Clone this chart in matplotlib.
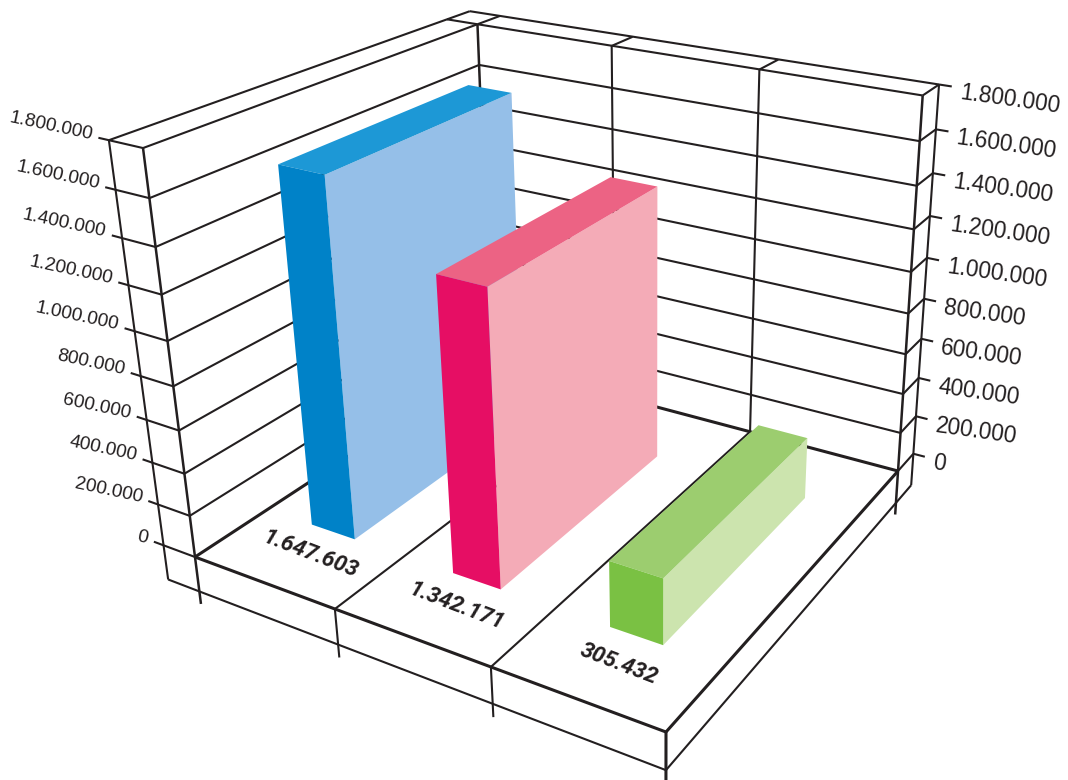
# 3D style bars, drawn on a flat pixel-sized axes through a fixed camera
import matplotlib
matplotlib.use("Agg")
import matplotlib.pyplot as plt
import numpy as np

values = [1647603, 1342171, 305432]
value_labels = ["1.647.603", "1.342.171", "305.432"]
axis_ticks = [0, 200000, 400000, 600000, 800000, 1000000, 1200000, 1400000, 1600000, 1800000]
tick_labels = ["0", "200.000", "400.000", "600.000", "800.000", "1.000.000",
               "1.200.000", "1.400.000", "1.600.000", "1.800.000"]
front_colors = ["#0082c8", "#e60e64", "#7ac143"]
side_colors = ["#95bfe8", "#f4abb7", "#cce4ae"]
top_colors = ["#1d98d6", "#ec6384", "#9ccd6f"]
INK = "#231f20"

# camera: u along the categories, v into the depth, z up (all 0..1 on the box)
CAMERA = np.array([
    [367.73, 416.61, -67.0, 195.0],
    [61.5, -104.83, -424.5, 557.0],
    [-0.15506, 0.24564, -0.105, 1.0],
])
# the original is not a clean perspective, its right side sits a little lower
WARP_X, WARP_Y = -3.0, 5.0
Z_MAX = axis_ticks[-1]
N = len(values)
BAR_W = 0.105 * 3 / N
BAR_SHIFT = -0.0025
V0, V1 = 0.207, 0.799
SKIRT = -0.095
DROP = -0.13
OUT_U = -0.08
OUT_V = 1.087
TICK_R = 1.025
THIN, MID, THICK = 1.5, 1.8, 2.2


def project(u, v, z):
    p = CAMERA @ np.array([u, v, z, 1.0])
    return p[0] / p[2] + WARP_X * u * z, p[1] / p[2] + WARP_Y * u * z


def seg(ax, a, b, lw=THIN):
    pa, pb = project(*a), project(*b)
    ax.plot([pa[0], pb[0]], [pa[1], pb[1]], color=INK, lw=lw, solid_capstyle="butt", zorder=2)


def face(ax, pts, color):
    xy = [project(*p) for p in pts]
    ax.fill([q[0] for q in xy], [q[1] for q in xy], color=color, lw=0, zorder=3)


fig = plt.figure(figsize=(10.68, 7.8), dpi=100)
ax = fig.add_axes([0, 0, 1, 1])
ax.set_xlim(0, 1068)
ax.set_ylim(780, 0)
ax.axis("off")

# walls
for t, lab in zip(axis_ticks, tick_labels):
    z = t / Z_MAX
    lw = THICK if t == 0 else THIN
    seg(ax, (0, 0, z), (0, 1, z), lw)
    seg(ax, (0, 1, z), (1, 1, z), lw)
    seg(ax, (-0.105, 0, z), (0, 0, z))
    seg(ax, (1, 1, z), (1, OUT_V, z))
    seg(ax, (1, OUT_V, z), (TICK_R, OUT_V, z))
    x, y = project(-0.105, 0, z)
    ax.text(x - 6, y - 3, lab, ha="right", va="center", rotation=-12, rotation_mode="anchor",
            family="Liberation Sans", fontsize=13.8, color=INK)
    x, y = project(TICK_R, OUT_V, z)
    ax.text(x + 8, y + 6, lab, ha="left", va="center", rotation=-8, rotation_mode="anchor",
            family="Liberation Sans", fontsize=16.3, color=INK)

# verticals and the outer frame
for u, v in [(0, 0), (1, 1)]:
    seg(ax, (u, v, 1), (u, v, DROP), MID)
seg(ax, (0, 1, 1), (0, 1, 0), MID)
for i in range(1, N):
    u = i / N
    seg(ax, (u, 1, 1), (u, 1, 0))
    seg(ax, (u, 1, 1), (u, OUT_V, 1))
    seg(ax, (u, 0, 0), (u, 1, 0))
    seg(ax, (u, 0, 0), (u, 0, DROP))
seg(ax, (1, 0, 0), (1, 0, DROP), THICK)
seg(ax, (0, 1, 1), (0, OUT_V, 1))
seg(ax, (OUT_U, 1, 1), (0, 1, 1))
seg(ax, (OUT_U, 0, 1), (OUT_U, OUT_V, 1))
seg(ax, (OUT_U, OUT_V, 1), (1, OUT_V, 1))
seg(ax, (OUT_U, 0, 1), (OUT_U, 0, SKIRT))
seg(ax, (1, OUT_V, 1), (1, OUT_V, SKIRT))
seg(ax, (OUT_U, 0, SKIRT), (1, 0, SKIRT))
seg(ax, (1, 0, SKIRT), (1, OUT_V, SKIRT))
# floor edges
seg(ax, (0, 0, 0), (1, 0, 0), THICK)
seg(ax, (1, 0, 0), (1, 1, 0), THICK)

# bars, back to front is simply left to right here
for i, val in enumerate(values):
    z = val / Z_MAX
    mid = (i + 0.5) / N + BAR_SHIFT
    u0, u1 = mid - BAR_W / 2, mid + BAR_W / 2
    face(ax, [(u1, V0, 0), (u1, V1, 0), (u1, V1, z), (u1, V0, z)], side_colors[i])
    face(ax, [(u0, V0, z), (u1, V0, z), (u1, V1, z), (u0, V1, z)], top_colors[i])
    face(ax, [(u0, V0, 0), (u1, V0, 0), (u1, V0, z), (u0, V0, z)], front_colors[i])
    x, y = project(mid + 0.015, 0.12, 0)
    ax.text(x, y, value_labels[i], ha="center", va="center", rotation=-21,
            family="Roboto", fontweight="bold", fontstyle="italic",
            fontsize=16.2, color=INK, zorder=4)

fig.savefig("out.png", dpi=100, facecolor="white")
